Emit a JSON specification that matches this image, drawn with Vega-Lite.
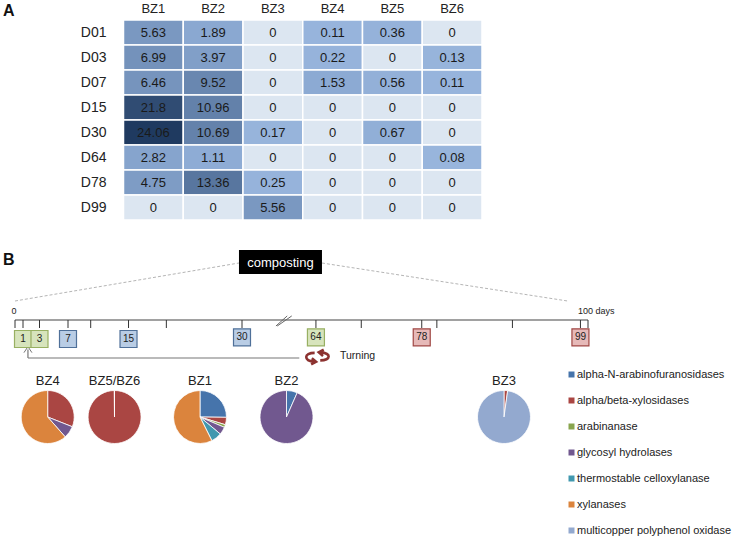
{
"$schema":"https://vega.github.io/schema/vega-lite/v6.json",
"width":746,"height":543,"padding":0,"autosize":{"type":"none"},"background":"white",
"config":{"view":{"stroke":null},"font":"Liberation Sans","text":{"font":"Liberation Sans"}},
"resolve":{"scale":{"x":"independent","y":"independent","color":"independent"}},
"layer":[
{"data":{"values":[{"panel":"A","column":0},{"panel":"B","column":0}]},
 "mark":{"type":"text","align":"left","baseline":"middle","fontSize":16,"fontWeight":"bold","color":"#111"},
 "encoding":{"x":{"field":"column","type":"quantitative","axis":null,"scale":{"domain":[0,1],"range":[3,14]}},
  "y":{"field":"panel","type":"nominal","axis":null,"scale":{"type":"point","domain":["A","B"],"range":[11,260],"padding":0}},
  "text":{"field":"panel","type":"nominal"}}},
{"data":{"values":[
{"b":"BZ1","d":"D01","v":5.63},{"b":"BZ2","d":"D01","v":1.89},{"b":"BZ3","d":"D01","v":0},{"b":"BZ4","d":"D01","v":0.11},{"b":"BZ5","d":"D01","v":0.36},{"b":"BZ6","d":"D01","v":0},
{"b":"BZ1","d":"D03","v":6.99},{"b":"BZ2","d":"D03","v":3.97},{"b":"BZ3","d":"D03","v":0},{"b":"BZ4","d":"D03","v":0.22},{"b":"BZ5","d":"D03","v":0},{"b":"BZ6","d":"D03","v":0.13},
{"b":"BZ1","d":"D07","v":6.46},{"b":"BZ2","d":"D07","v":9.52},{"b":"BZ3","d":"D07","v":0},{"b":"BZ4","d":"D07","v":1.53},{"b":"BZ5","d":"D07","v":0.56},{"b":"BZ6","d":"D07","v":0.11},
{"b":"BZ1","d":"D15","v":21.8},{"b":"BZ2","d":"D15","v":10.96},{"b":"BZ3","d":"D15","v":0},{"b":"BZ4","d":"D15","v":0},{"b":"BZ5","d":"D15","v":0},{"b":"BZ6","d":"D15","v":0},
{"b":"BZ1","d":"D30","v":24.06},{"b":"BZ2","d":"D30","v":10.69},{"b":"BZ3","d":"D30","v":0.17},{"b":"BZ4","d":"D30","v":0},{"b":"BZ5","d":"D30","v":0.67},{"b":"BZ6","d":"D30","v":0},
{"b":"BZ1","d":"D64","v":2.82},{"b":"BZ2","d":"D64","v":1.11},{"b":"BZ3","d":"D64","v":0},{"b":"BZ4","d":"D64","v":0},{"b":"BZ5","d":"D64","v":0},{"b":"BZ6","d":"D64","v":0.08},
{"b":"BZ1","d":"D78","v":4.75},{"b":"BZ2","d":"D78","v":13.36},{"b":"BZ3","d":"D78","v":0.25},{"b":"BZ4","d":"D78","v":0},{"b":"BZ5","d":"D78","v":0},{"b":"BZ6","d":"D78","v":0},
{"b":"BZ1","d":"D99","v":0},{"b":"BZ2","d":"D99","v":0},{"b":"BZ3","d":"D99","v":5.56},{"b":"BZ4","d":"D99","v":0},{"b":"BZ5","d":"D99","v":0},{"b":"BZ6","d":"D99","v":0}
]},
 "encoding":{
  "x":{"field":"b","type":"nominal","title":null,"scale":{"type":"band","range":[123.5,482],"paddingInner":0,"paddingOuter":0},
   "axis":{"orient":"top","offset":-15,"domain":false,"ticks":false,"labelPadding":0,"labelAngle":0,"labelFontSize":13,"labelColor":"#222","labelFont":"Liberation Sans","grid":false}},
  "y":{"field":"d","type":"nominal","title":null,"scale":{"type":"band","range":[20,220],"paddingInner":0,"paddingOuter":0},
   "axis":{"orient":"left","offset":-106,"domain":false,"ticks":false,"labelPadding":0,"labelFontSize":14,"labelColor":"#222","labelFont":"Liberation Sans","grid":false}}
 },
 "layer":[
  {"mark":{"type":"rect","stroke":"white","strokeWidth":1.5},
   "encoding":{"color":{"field":"v","type":"quantitative","legend":null,"scale":{"type":"linear","interpolate":"rgb","domain":[0,0.05,1,5.6,10,14,22,24.1],"range":["#dce6f1","#98b5dc","#8eacd5","#7a98c1","#6785ae","#55739c","#2f4b72","#1f3a60"]}}}},
  {"mark":{"type":"text","fontSize":13,"color":"#1a1a1a"},"encoding":{"text":{"field":"v","type":"nominal"}}}
 ]},
{"encoding":{
  "x":{"field":"day","type":"quantitative","axis":null,"scale":{"domain":[0,1,3,7,30,60,100],"range":[15,23,39.5,68,242,285.7,588]}},
  "y":{"field":"lane","type":"quantitative","axis":null,"scale":{"domain":[0,1,2,3,4,5,6,7,8],"range":[250,263,274,301,311,320,328,339,358]}}
 },
 "layer":[
  {"data":{"values":[{"day":0,"lane":3,"day2":29.6,"lane2":1},{"day":64.8,"lane":1,"day2":97.3,"lane2":3}]},
   "mark":{"type":"rule","color":"#b5b5b5","strokeWidth":1,"strokeDash":[3,2]},
   "encoding":{"x2":{"field":"day2"},"y2":{"field":"lane2"}}},
  {"data":{"values":[{"day":29.6,"day2":64.8,"lane":0,"lane2":2}]},
   "mark":{"type":"rect","color":"#000"},
   "encoding":{"x2":{"field":"day2"},"y2":{"field":"lane2"}}},
  {"data":{"values":[{"day":56.4,"lane":1,"t":"composting"}]},
   "mark":{"type":"text","color":"white","fontSize":13,"baseline":"middle"},
   "encoding":{"text":{"field":"t","type":"nominal"}}},
  {"data":{"values":[{"day":0,"day2":100,"lane":5}]},
   "mark":{"type":"rule","color":"#444","strokeWidth":1.2},
   "encoding":{"x2":{"field":"day2"}}},
  {"data":{"values":[{"day":0,"lane":5,"lane2":6},{"day":1,"lane":5,"lane2":6},{"day":3,"lane":5,"lane2":6},{"day":7,"lane":5,"lane2":6},{"day":10,"lane":5,"lane2":6},{"day":15,"lane":5,"lane2":6},{"day":20,"lane":5,"lane2":6},{"day":30,"lane":5,"lane2":6},{"day":64,"lane":5,"lane2":6},{"day":70,"lane":5,"lane2":6},{"day":78,"lane":5,"lane2":6},{"day":80,"lane":5,"lane2":6},{"day":90,"lane":5,"lane2":6},{"day":99,"lane":5,"lane2":6},{"day":100,"lane":5,"lane2":6}]},
   "mark":{"type":"rule","color":"#333","strokeWidth":1},
   "encoding":{"y2":{"field":"lane2"}}},
  {"data":{"values":[{"day":53.3,"lane":5.75,"day2":60.2,"lane2":4.55},{"day":54.2,"lane":5.75,"day2":60.8,"lane2":4.55}]},
   "mark":{"type":"rule","color":"#666","strokeWidth":1},
   "encoding":{"x2":{"field":"day2"},"y2":{"field":"lane2"}}},
  {"data":{"values":[{"day":1.6,"day2":61.8,"lane":8}]},
   "mark":{"type":"rule","color":"#777","strokeWidth":1.2},
   "encoding":{"x2":{"field":"day2"}}},
  {"data":{"values":[{"day":1.6,"lane":7.55,"lane2":8}]},
   "mark":{"type":"rule","color":"#777","strokeWidth":1.2},
   "encoding":{"y2":{"field":"lane2"}}},
  {"data":{"values":[{"day":1.6,"lane":7.55}]},
   "mark":{"type":"point","shape":"M-1 0.8L0 -0.7L1 0.8","size":64,"filled":false,"stroke":"#777","strokeWidth":1,"opacity":1}},
  {"data":{"values":[{"day":1,"lane":7,"group":"G1"},{"day":3,"lane":7,"group":"G1"},{"day":7,"lane":7,"group":"G2"},{"day":15,"lane":7,"group":"G2"},{"day":30,"lane":6.85,"group":"G2"},{"day":64,"lane":6.85,"group":"G1"},{"day":78,"lane":6.85,"group":"G3"},{"day":99,"lane":6.85,"group":"G3"}]},
   "mark":{"type":"square","size":289,"strokeWidth":1.2,"opacity":1},
   "encoding":{"fill":{"field":"group","type":"nominal","legend":null,"scale":{"domain":["G1","G2","G3"],"range":["#d7e4bc","#b9cde5","#e6b9b8"]}},
    "stroke":{"field":"group","type":"nominal","legend":null,"scale":{"domain":["G1","G2","G3"],"range":["#98b062","#4f7099","#a04744"]}}}},
  {"data":{"values":[{"day":1,"lane":7},{"day":3,"lane":7},{"day":7,"lane":7},{"day":15,"lane":7},{"day":30,"lane":6.85},{"day":64,"lane":6.85},{"day":78,"lane":6.85},{"day":99,"lane":6.85}]},
   "mark":{"type":"text","fontSize":10,"color":"#222","baseline":"middle"},
   "encoding":{"text":{"field":"day","type":"nominal"}}},
  {"data":{"values":[{"day":0,"lane":4,"t":"0"}]},
   "mark":{"type":"text","fontSize":9,"color":"#222","baseline":"middle","align":"center","dx":-1},
   "encoding":{"text":{"field":"t","type":"nominal"}}},
  {"data":{"values":[{"day":100,"lane":4,"t":"100 days"}]},
   "mark":{"type":"text","fontSize":9,"color":"#222","baseline":"middle","align":"left","dx":-10},
   "encoding":{"text":{"field":"t","type":"nominal"}}},
  {"data":{"values":[{"day":64.2,"lane":7.95}]},
   "mark":{"type":"point","shape":"M-0.2 -0.3C-1 -0.3 -1 0.28 -0.2 0.34M-0.4 0.08L-0.1 0.34L-0.45 0.52M0.2 0.24C1 0.24 1 -0.3 0.2 -0.34M0.4 -0.08L0.1 -0.34L0.45 -0.52","size":784,"filled":false,"stroke":"#8c3230","strokeWidth":2.6,"opacity":1}},
  {"data":{"values":[{"day":64,"lane":8,"t":"Turning"}]},
   "mark":{"type":"text","fontSize":10.5,"color":"#222","baseline":"middle","align":"left","dx":24,"dy":-2},
   "encoding":{"text":{"field":"t","type":"nominal"}}}
 ]},
{"encoding":{
  "x":{"field":"slot","type":"quantitative","axis":null,"scale":{"domain":[0,1,2,3,4],"range":[47.7,114.5,200,286.5,504]}},
  "y":{"field":"row","type":"quantitative","axis":null,"scale":{"domain":[0,1],"range":[381,417]}}
 },
 "layer":[
  {"data":{"values":[{"slot":0,"row":0,"t":"BZ4"},{"slot":1,"row":0,"t":"BZ5/BZ6"},{"slot":2,"row":0,"t":"BZ1"},{"slot":3,"row":0,"t":"BZ2"},{"slot":4,"row":0,"t":"BZ3"}]},
   "mark":{"type":"text","fontSize":13,"color":"#222","baseline":"middle"},
   "encoding":{"text":{"field":"t","type":"nominal"}}},
  {"data":{"values":[
   {"slot":0,"row":1,"cat":"alpha/beta-xylosidases","pct":31},{"slot":0,"row":1,"cat":"glycosyl hydrolases","pct":7.5},{"slot":0,"row":1,"cat":"xylanases","pct":61.5},
   {"slot":1,"row":1,"cat":"alpha/beta-xylosidases","pct":99.9},{"slot":1,"row":1,"cat":"xylanases","pct":0.1},
   {"slot":2,"row":1,"cat":"alpha-N-arabinofuranosidases","pct":25.2},{"slot":2,"row":1,"cat":"alpha/beta-xylosidases","pct":4.5},{"slot":2,"row":1,"cat":"arabinanase","pct":1.7},{"slot":2,"row":1,"cat":"glycosyl hydrolases","pct":4.7},{"slot":2,"row":1,"cat":"thermostable celloxylanase","pct":6.5},{"slot":2,"row":1,"cat":"xylanases","pct":57.4},
   {"slot":3,"row":1,"cat":"alpha-N-arabinofuranosidases","pct":6.6},{"slot":3,"row":1,"cat":"glycosyl hydrolases","pct":93.4},
   {"slot":4,"row":1,"cat":"alpha/beta-xylosidases","pct":2.2},{"slot":4,"row":1,"cat":"multicopper polyphenol oxidase","pct":97.8}
  ]},
   "transform":[{"stack":"pct","groupby":["slot"],"offset":"normalize","as":["s0","s1"]}],
   "mark":{"type":"arc","outerRadius":26.5,"innerRadius":0,"stroke":"white","strokeWidth":0.8},
   "encoding":{
    "theta":{"field":"s0","type":"quantitative","scale":{"domain":[0,1],"range":[0,6.28319]}},
    "theta2":{"field":"s1"},
    "color":{"field":"cat","type":"nominal","scale":{"domain":["alpha-N-arabinofuranosidases","alpha/beta-xylosidases","arabinanase","glycosyl hydrolases","thermostable celloxylanase","xylanases","multicopper polyphenol oxidase"],"range":["#4674ab","#aa4643","#89a54e","#71588f","#4198af","#db843d","#93a9cf"]},
     "legend":{"title":null,"orient":"none","legendX":566,"legendY":368,"symbolType":"square","symbolSize":36,"symbolStrokeWidth":0,"labelFontSize":11,"labelColor":"#222","labelFont":"Liberation Sans","rowPadding":13,"labelOffset":0,"columns":1,"labelLimit":200,"clipHeight":13}}
   }}
 ]}
]}
